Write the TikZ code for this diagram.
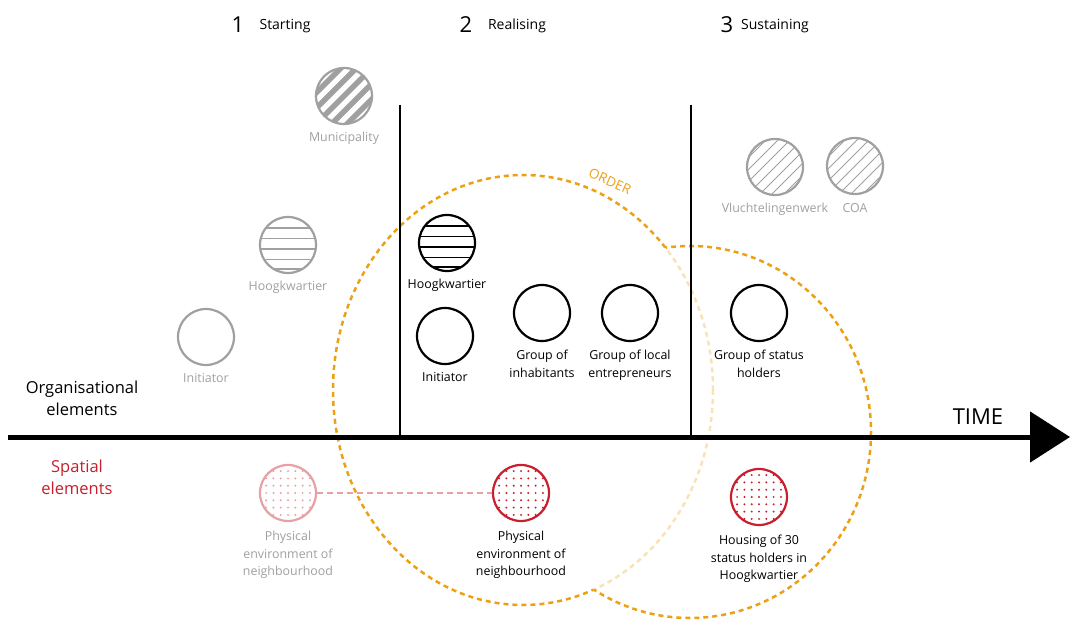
\documentclass[tikz,border=0pt]{standalone}
\usepackage{fontspec}
\setmainfont{Open Sans}
\usetikzlibrary{positioning, arrows.meta}
\definecolor{ordercol}{RGB}{236,160,20}
\definecolor{spatred}{RGB}{200,30,45}
\definecolor{spatpale}{RGB}{232,160,165}
\definecolor{oldgrey}{RGB}{160,160,160}

\tikzset{
  element/.style={circle, draw, line width=2.2pt, minimum size=56pt, inner sep=0pt},
  oldelem/.style={element, draw=oldgrey},
  caption/.style={inner sep=0pt, align=center, font=\fontsize{12.4}{17.5}\selectfont},
  axislabel/.style={inner sep=0pt, align=center, font=\fontsize{16.5}{22}\selectfont},
  orderline/.style={draw=ordercol, line width=2.5pt, dash pattern=on 5pt off 4pt},
  hlines/.style={path picture={
      \foreach \dy in {17,6.5,-4,-14.5,-24}
        \draw[#1, line width=1.3pt] ([yshift=\dy pt]path picture bounding box.west)
          -- ([yshift=\dy pt]path picture bounding box.east);}},
  thickstripes/.style={path picture={
      \foreach \s in {-62,-46.5,...,62}
        \draw[#1, line width=5.5pt] ([xshift=\s pt]path picture bounding box.center)
          ++(-40pt,-40pt) -- ++(80pt,80pt);}},
  thinstripes/.style={path picture={
      \foreach \s in {-60,-48,...,60}
        \draw[#1, line width=0.9pt] ([xshift=\s pt]path picture bounding box.center)
          ++(-40pt,-40pt) -- ++(80pt,80pt);}},
  dots/.style={path picture={
      \foreach \i in {-3,...,3}
        \foreach \j in {-3,...,3}
          \fill[#1] ([xshift=\i*7.3pt, yshift=\j*7.3pt]path picture bounding box.center)
            circle (1.1pt);}},
}

\begin{document}
\begin{tikzpicture}[x=1pt, y=-1pt]
\useasboundingbox (0,0) rectangle (1070,620);

% phases
\node[font=\fontsize{22}{24}\selectfont] (num1) at (238,25) {1};
\node[font=\fontsize{14}{16}\selectfont] (phase1) at (285,26) {Starting};
\node[font=\fontsize{22}{24}\selectfont] (num2) at (466,25) {2};
\node[font=\fontsize{14}{16}\selectfont] (phase2) at (517,26) {Realising};
\node[font=\fontsize{22}{24}\selectfont] (num3) at (727,25) {3};
\node[font=\fontsize{14}{16}\selectfont] (phase3) at (775,26) {Sustaining};

% order circles
\coordinate (ordercentre) at (523,390);
\coordinate (sustaincentre) at (690,432);
\begin{scope}[even odd rule]
  \clip (0,0) rectangle (1070,620) (sustaincentre) ellipse[x radius=181, y radius=186];
  \draw[orderline] (ordercentre) ellipse[x radius=190, y radius=215];
\end{scope}
\begin{scope}
  \clip (sustaincentre) ellipse[x radius=181, y radius=186];
  \draw[orderline, draw=ordercol!30] (ordercentre) ellipse[x radius=190, y radius=215];
\end{scope}
\begin{scope}[even odd rule]
  \clip (0,0) rectangle (1070,620) (ordercentre) ellipse[x radius=190, y radius=215];
  \draw[orderline] (sustaincentre) ellipse[x radius=181, y radius=186];
\end{scope}
\node[text=ordercol, rotate=-24, inner sep=0pt, font=\fontsize{13.5}{15}\selectfont] (ordertxt) at (610,181) {ORDER};

% phase borders and time axis
\coordinate (border1top) at (400,105);
\coordinate (border1bot) at (400,437);
\coordinate (border2top) at (691,105);
\coordinate (border2bot) at (691,437);
\draw[line width=2pt] (border1top) -- (border1bot);
\draw[line width=2pt] (border2top) -- (border2bot);
\coordinate (axisstart) at (8,437);
\coordinate (axisend) at (1070,437);
\draw[line width=5pt, -{Triangle[length=40pt, width=50pt]}] (axisstart) -- (axisend);
\node[font=\fontsize{22}{24}\selectfont] (timetxt) at (978,417) {TIME};

\node[axislabel] (orgtxt) at (82,398) {Organisational\\elements};
\node[axislabel, text=spatred] (spattxt) at (77,477) {Spatial\\elements};

% starting
\node[oldelem, thickstripes=oldgrey] (municipality) at (344,96) {};
\node[caption, text=oldgrey, below=7pt of municipality] (municipalitytxt) {Municipality};
\node[oldelem, hlines=oldgrey] (hoogold) at (288,245) {};
\node[caption, text=oldgrey, below=7pt of hoogold] (hoogoldtxt) {Hoogkwartier};
\node[oldelem] (initold) at (206,337) {};
\node[caption, text=oldgrey, below=7pt of initold] (initoldtxt) {Initiator};
\node[element, draw=spatpale, dots=spatpale] (physold) at (288,493) {};
\node[caption, text=oldgrey, below=9pt of physold] (physoldtxt) {Physical\\environment of\\neighbourhood};

% realising
\node[element, hlines=black] (hoog) at (447,243) {};
\node[caption, below=7pt of hoog] (hoogtxt) {Hoogkwartier};
\node[element] (init) at (445,336) {};
\node[caption, below=7pt of init] (inittxt) {Initiator};
\node[element] (inhab) at (542,313) {};
\node[caption, below=8pt of inhab] (inhabtxt) {Group of\\inhabitants};
\node[element] (entre) at (630,313) {};
\node[caption, below=8pt of entre] (entretxt) {Group of local\\entrepreneurs};
\node[element, draw=spatred, dots=spatred] (phys) at (521,493) {};
\node[caption, below=9pt of phys] (phystxt) {Physical\\environment of\\neighbourhood};
\draw[spatpale, line width=1.5pt, dash pattern=on 6pt off 4pt] (physold) -- (phys);

% sustaining
\node[oldelem, thinstripes=oldgrey] (vluchtel) at (775,167) {};
\node[caption, text=oldgrey, below=7pt of vluchtel] (vluchteltxt) {Vluchtelingenwerk};
\node[oldelem, thinstripes=oldgrey] (coa) at (855,166) {};
\node[caption, text=oldgrey, below=8pt of coa] (coatxt) {COA};
\node[element] (status) at (759,313) {};
\node[caption, below=8pt of status] (statustxt) {Group of status\\holders};
\node[element, draw=spatred, dots=spatred] (housing) at (759,497) {};
\node[caption, below=9pt of housing] (housingtxt) {Housing of 30\\status holders in\\Hoogkwartier};
\end{tikzpicture}
\end{document}
